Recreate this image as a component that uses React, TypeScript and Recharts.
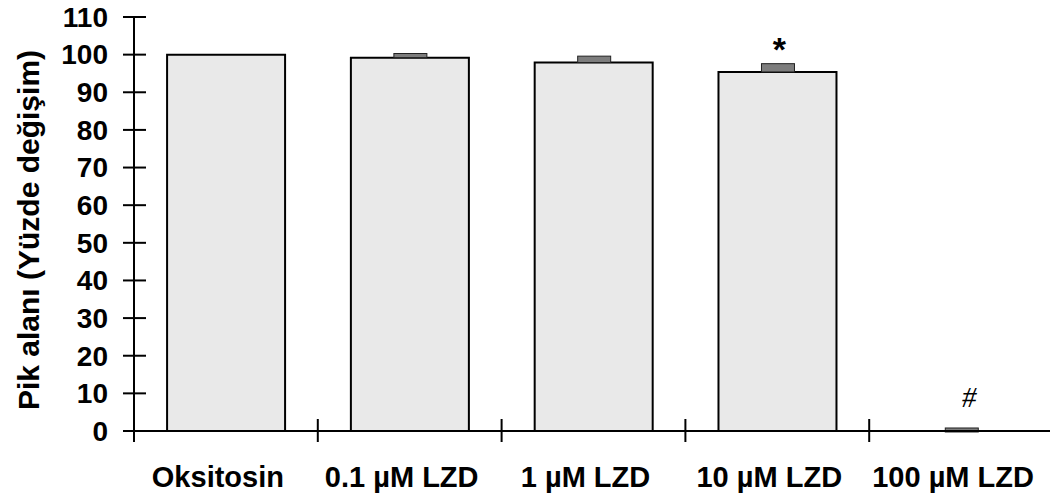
import { Bar, BarChart, LabelList, XAxis, YAxis } from "recharts";

const categories = ["Oksitosin", "0.1 µM LZD", "1 µM LZD", "10 µM LZD", "100 µM LZD"];
const peakArea = [100, 99.2, 97.9, 95.4, 0];
const sem = [0, 1.1, 1.7, 2.2, 0.8];
const marks = ["", "", "", "*", "#"];
const yTicks = [0, 10, 20, 30, 40, 50, 60, 70, 80, 90, 100, 110];
const yLabel = "Pik alanı (Yüzde değişim)";

const FONT = "'Liberation Sans', Arial, sans-serif";

const rows = categories.map((name, i) => ({ name, value: peakArea[i], err: sem[i], mark: marks[i] }));

// y ticks cross the axis line
function YTick({ x, y, payload }: any) {
  return (
    <g>
      <line x1={x - 11} x2={x + 12} y1={y} y2={y} stroke="#000" strokeWidth={2} />
      <text x={x - 26} y={y} dy="0.35em" textAnchor="end" fontFamily={FONT} fontWeight="bold" fontSize={28} fill="#000">
        {payload.value}
      </text>
    </g>
  );
}

// x ticks sit on the category boundaries, labels at the band centre
function XTick({ x, y, payload, index }: any) {
  const half = payload.offset ?? 0;
  return (
    <g>
      {index === 0 && <line x1={x - half} x2={x - half} y1={y - 12} y2={y + 11} stroke="#000" strokeWidth={2} />}
      <line x1={x + half} x2={x + half} y1={y - 12} y2={y + 11} stroke="#000" strokeWidth={2} />
      <text x={x - 8} y={y + 56} textAnchor="middle" fontFamily={FONT} fontWeight="bold" fontSize={29} fill="#000">
        {payload.value}
      </text>
    </g>
  );
}

function ErrShape({ x, y, width, height }: any) {
  if (!height || height <= 0) return <g />;
  return <rect x={x + width / 2 - 16} y={y} width={33} height={Math.max(height, 4)} fill="#7d7d7d" stroke="#222" strokeWidth={1} />;
}

function MarkLabel({ x, y, width, value }: any) {
  if (!value) return null;
  const cx = x + width / 2;
  if (value === "#")
    return (
      <text x={cx + 8} y={y - 21} textAnchor="middle" fontFamily="'Liberation Serif', serif" fontStyle="italic" fontSize={29} fill="#000">
        #
      </text>
    );
  return (
    <text x={cx + 2} y={y - 3} textAnchor="middle" fontFamily={FONT} fontWeight="bold" fontSize={34} fill="#000">
      {value}
    </text>
  );
}

function YLabel({ viewBox }: any) {
  const cx = viewBox.x + 20;
  const cy = viewBox.y + viewBox.height / 2 + 6;
  return (
    <text x={cx} y={cy} dy="0.35em" transform={`rotate(-90, ${cx}, ${cy})`} textAnchor="middle" fontFamily={FONT} fontWeight="bold" fontSize={30} fill="#000">
      {yLabel}
    </text>
  );
}

export default function App() {
  return (
    <div style={{ marginTop: -6 }}>
      <BarChart width={1050} height={500} data={rows} margin={{ top: 15, right: 5, bottom: 0, left: 0 }} barCategoryGap="18%">
        <XAxis
          dataKey="name"
          height={71}
          axisLine={{ stroke: "#000", strokeWidth: 2 }}
          tickLine={false}
          tickSize={0}
          tickMargin={0}
          tick={<XTick />}
          interval={0}
        />
        <YAxis
          width={126}
          domain={[0, 110]}
          ticks={yTicks}
          interval={0}
          axisLine={{ stroke: "#000", strokeWidth: 2 }}
          tickLine={false}
          tickSize={0}
          tickMargin={0}
          tick={<YTick />}
          label={{ content: <YLabel /> }}
        />
        <Bar dataKey="value" stackId="a" fill="#e9e9e9" stroke="#000" strokeWidth={2} isAnimationActive={false} />
        <Bar dataKey="err" stackId="a" shape={<ErrShape />} isAnimationActive={false}>
          <LabelList dataKey="mark" content={<MarkLabel />} />
        </Bar>
      </BarChart>
    </div>
  );
}
